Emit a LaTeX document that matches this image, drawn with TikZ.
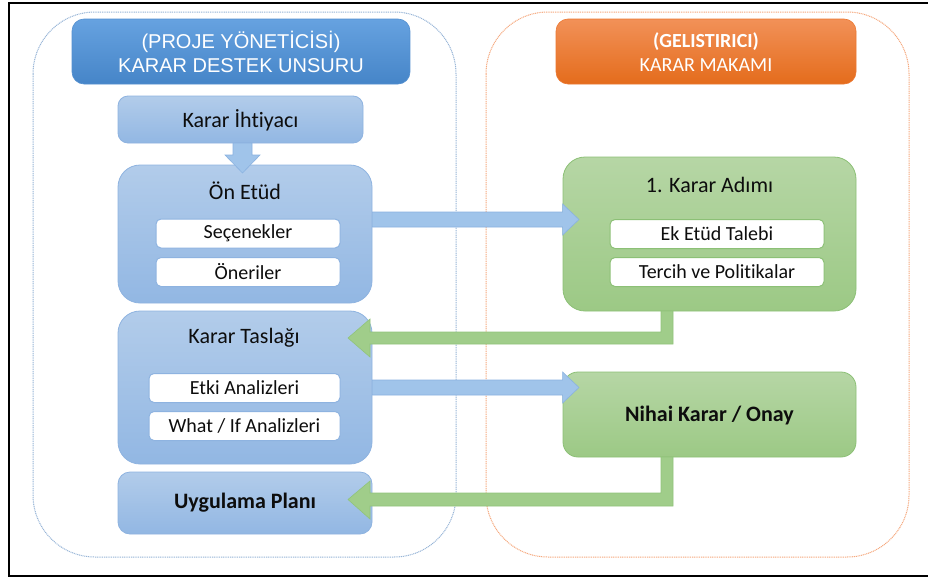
\documentclass[tikz,border=0pt]{standalone}
\usepackage{fontspec}
\setmainfont{Carlito}[Ligatures={NoCommon,NoDiscretionary}]
\newfontfamily\arialf{Liberation Sans}
\usetikzlibrary{calc}
\definecolor{hdrbluetop}{RGB}{102,162,224}
\definecolor{hdrbluebot}{RGB}{70,133,200}
\definecolor{hdrbluebd}{RGB}{84,144,208}
\definecolor{ltbluetop}{RGB}{178,204,234}
\definecolor{ltbluebot}{RGB}{146,183,227}
\definecolor{ltbluebd}{RGB}{142,179,224}
\definecolor{orgtop}{RGB}{242,145,88}
\definecolor{orgmid}{RGB}{240,125,45}
\definecolor{orgbot}{RGB}{228,108,28}
\definecolor{orgbd}{RGB}{236,120,50}
\definecolor{grntop}{RGB}{182,214,165}
\definecolor{grnbot}{RGB}{156,201,133}
\definecolor{grnbd}{RGB}{140,192,118}
\definecolor{grnarrow}{RGB}{160,205,138}
\definecolor{grnarrowbd}{RGB}{145,196,122}
\definecolor{bluearrowc}{RGB}{160,196,234}
\definecolor{bluearrowbd}{RGB}{138,178,224}
\definecolor{contblue}{RGB}{150,180,215}
\definecolor{contorg}{RGB}{246,168,125}
\definecolor{txt}{RGB}{13,13,13}
\tikzset{
  container/.style={line width=1pt, dash pattern=on 1pt off 0.8pt, rounded corners=62pt},
  hdr/.style={inner sep=0pt, rounded corners=12pt, line width=0.6pt, text=white, align=center,
    font=\fontsize{20}{24}\selectfont},
  bluebox/.style={inner sep=0pt, draw=ltbluebd, line width=0.8pt, top color=ltbluetop, bottom color=ltbluebot},
  greenbox/.style={inner sep=0pt, draw=grnbd, line width=0.8pt, top color=grntop, bottom color=grnbot},
  whitebox/.style={inner sep=0pt, fill=white, line width=1pt, rounded corners=5pt,
    minimum height=29pt, text=txt, font=\fontsize{20}{24}\selectfont},
  title/.style={inner sep=0pt, text=txt, font=\fontsize{22}{26}\selectfont},
  boldtitle/.style={inner sep=0pt, text=txt, font=\fontsize{22}{26}\selectfont\bfseries},
  bluearrow/.style={fill=bluearrowc, draw=bluearrowbd, line width=0.6pt, line join=miter},
  greenarrow/.style={fill=grnarrow, draw=grnarrowbd, line width=0.6pt, line join=miter}
}
\begin{document}
\begin{tikzpicture}[x=1pt,y=-1pt]
\useasboundingbox (0,0) rectangle (928,581);
\fill[white] (0,0) rectangle (928,581);
% outer frame
\draw[line width=2.4pt] (9,3) rectangle (932,576);
% containers
\draw[container, draw=contblue] (33,12) rectangle (456,557);
\draw[container, draw=contorg] (486,12) rectangle (909,557);
% headers
\node[hdr, draw=hdrbluebd, top color=hdrbluetop, bottom color=hdrbluebot,
  minimum width=338pt, minimum height=65pt] (h1) at (241,51.5) {};
\node[text=white, align=center, inner sep=0pt, font=\arialf\fontsize{20}{24}\selectfont] (h1t) at (241,52)
  {(PROJE YÖNETİCİSİ)\\KARAR DESTEK UNSURU};
\node[hdr, draw=orgbd, top color=orgtop, middle color=orgmid, bottom color=orgbot,
  minimum width=300pt, minimum height=65pt] (h2) at (706,51.5) {};
\node[text=white, align=center, inner sep=0pt, font=\fontsize{20}{24}\selectfont] (h2t) at (706,52)
  {\textbf{(GELISTIRICI)}\\KARAR MAKAMI};
% left column
\node[bluebox, rounded corners=10pt, minimum width=245pt, minimum height=47pt] (ki) at (240.5,119.5) {};
\node[title] (kit) at (240.5,120) {Karar İhtiyacı};
\node[bluebox, rounded corners=22pt, minimum width=254pt, minimum height=138pt] (oe) at (245,234) {};
\node[title] (oet) at (245,191) {Ön Etüd};
\node[whitebox, draw=ltbluebd, minimum width=184pt] (sec) at (248,233.5) {Seçenekler};
\node[whitebox, draw=ltbluebd, minimum width=184pt] (one) at (248,272) {Öneriler};
\node[bluebox, rounded corners=22pt, minimum width=254pt, minimum height=153pt] (kt) at (245,387.5) {};
\node[title] (ktt) at (244,338) {Karar Taslağı};
\node[whitebox, draw=ltbluebd, minimum width=191pt] (etk) at (244.5,388) {Etki Analizleri};
\node[whitebox, draw=ltbluebd, minimum width=191pt] (wif) at (244.5,426) {What / If Analizleri};
\node[bluebox, rounded corners=12pt, minimum width=254pt, minimum height=62pt] (up) at (245,503) {};
\node[boldtitle] (upt) at (245,503) {Uygulama Planı};
% right column
\node[greenbox, rounded corners=22pt, minimum width=293pt, minimum height=154pt] (ka) at (709.5,234) {};
\node[title] (kat) at (709.5,185) {1. Karar Adımı};
\node[whitebox, draw=grnbd, minimum width=214pt] (ek) at (717,234) {Ek Etüd Talebi};
\node[whitebox, draw=grnbd, minimum width=214pt] (ter) at (717,272) {Tercih ve Politikalar};
\node[greenbox, rounded corners=15pt, minimum width=293pt, minimum height=85pt] (nk) at (709.5,414.5) {};
\node[boldtitle] (nkt) at (709.5,416) {Nihai Karar / Onay};
% down arrow
\path[bluearrow] (233,143) -- (252,143) -- (252,155) -- (260,155) -- (242.5,173)
  -- (225,155) -- (233,155) -- cycle;
% blue arrows to the right
\path[bluearrow] (oe.east |- 0,212) -- (ka.west |- 0,212) -- (ka.west |- 0,204) -- (579,219.5)
  -- (ka.west |- 0,235) -- (ka.west |- 0,227) -- (oe.east |- 0,227) -- cycle;
\path[bluearrow] (kt.east |- 0,380) -- (nk.west |- 0,380) -- (nk.west |- 0,372) -- (579,387.5)
  -- (nk.west |- 0,403) -- (nk.west |- 0,395) -- (kt.east |- 0,395) -- cycle;
% green arrows back to the left
\path[greenarrow] (661,311) -- (673,311) -- (673,344) -- (370,344) -- (370,357) -- (348,338)
  -- (370,319) -- (370,332) -- (661,332) -- cycle;
\path[greenarrow] (661,457) -- (673,457) -- (673,506) -- (370,506) -- (370,519) -- (348,499.5)
  -- (370,481) -- (370,493) -- (661,493) -- cycle;
\end{tikzpicture}
\end{document}
